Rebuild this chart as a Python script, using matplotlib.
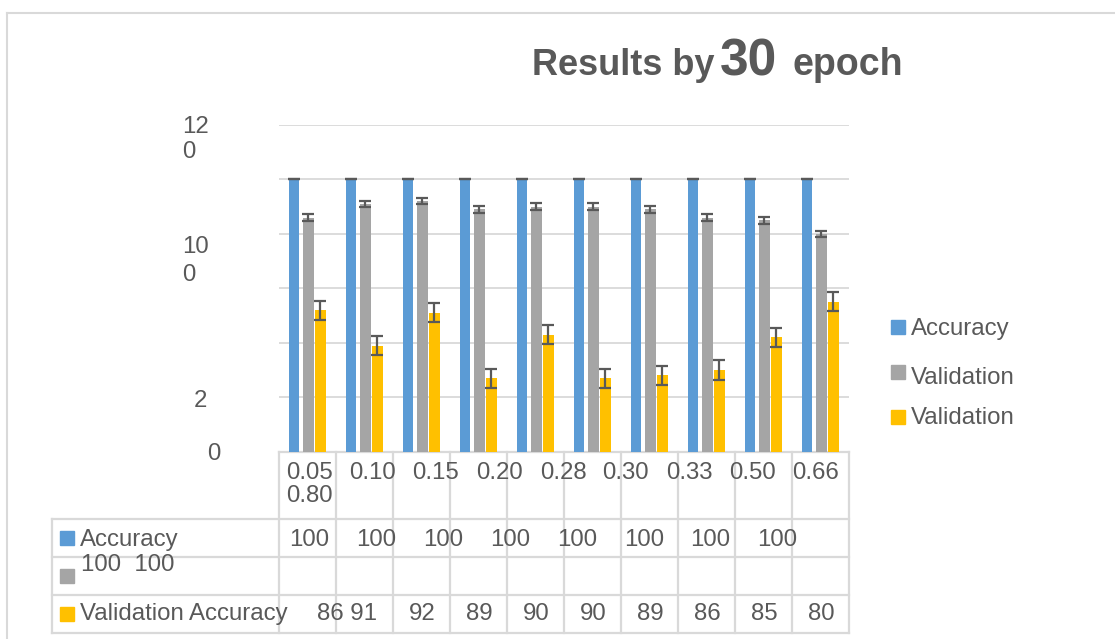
import matplotlib
matplotlib.use('Agg')
import matplotlib.pyplot as plt
import matplotlib.transforms as mtransforms
from matplotlib.patches import Rectangle
import numpy as np

plt.rcParams['font.family'] = ['Liberation Sans', 'DejaVu Sans']

# data
categories = ["0.05", "0.10", "0.15", "0.20", "0.28", "0.30", "0.33", "0.50", "0.66", "0.80"]
accuracy = [100, 100, 100, 100, 100, 100, 100, 100, 100, 100]
validation_grey = [86, 91, 92, 89, 90, 90, 89, 86, 85, 80]
validation_yellow = [52, 39, 51, 27, 43, 27, 28, 30, 42, 55]
err_accuracy = 0
err_grey = 1.2
err_yellow = 3.5
legend_labels = ["Accuracy", "Validation", "Validation"]

# text as it appears (garbled layout of the original)
header_texts = ["0.05", "0.10", "0.15", "0.20", "0.28", "0.30", "0.33", "0.50", "0.66"]
header_extra = "0.80"
acc_row_texts = ["100", "100", "100", "100", "100", "100", "100", "100"]
grey_row_label = "100  100"
yellow_row_label = "Validation Accuracy"
yellow_row_texts = ["86 91", "92", "89", "90", "90", "89", "86", "85", "80"]
ytick_texts = ["12", "0", "10", "0", "2", "0"]

BLUE = '#5B9BD5'
GREY = '#A5A5A5'
YELLOW = '#FFC000'
TXT = '#595959'
LINE = '#D9D9D9'
FS = 17.3
DY = 2  # small nudge so centred text sits like the original

W, H = 1115, 639
fig = plt.figure(figsize=(W / 100, H / 100), dpi=100)

# pixel overlay for table, labels, legend
ov = fig.add_axes([0, 0, 1, 1])
ov.set_xlim(0, W)
ov.set_ylim(H, 0)
ov.axis('off')

ax = fig.add_axes([279 / W, 1 - 451.7 / H, 570 / W, (451.7 - 125) / H])
ax.set_zorder(2)
ax.patch.set_alpha(0)

x = np.arange(len(categories))
bw = 0.18
ekw = dict(ecolor='#595959', elinewidth=1.6, capsize=4.6, capthick=1.6)
ax.bar(x - 0.232, accuracy, bw, color=BLUE, yerr=err_accuracy, error_kw=ekw, zorder=3)
ax.bar(x + 0.016, validation_grey, bw, color=GREY, yerr=err_grey, error_kw=ekw, zorder=3)
ax.bar(x + 0.227, validation_yellow, bw, color=YELLOW, yerr=err_yellow, error_kw=ekw, zorder=3)

ax.set_xlim(-0.5, len(categories) - 0.5)
ax.set_ylim(0, 120)
ax.set_yticks(range(0, 121, 20))
ax.yaxis.grid(True, color=LINE, linewidth=1.3, zorder=0)
ax.set_axisbelow(True)
ax.tick_params(left=False, bottom=False, labelleft=False, labelbottom=False)
for s in ax.spines.values():
    s.set_visible(False)

# outer border
ov.plot([7, W], [13, 13], color=LINE, lw=1.5)
ov.plot([7, 7], [13, H], color=LINE, lw=1.5)

# title
ov.text(532, 75, "Results by", fontsize=26, fontweight='bold', color=TXT, va='baseline', ha='left')
ov.text(720, 75, "30", fontsize=37, fontweight='bold', color=TXT, va='baseline', ha='left')
ov.text(793, 75, "epoch", fontsize=27, fontweight='bold', color=TXT, va='baseline', ha='left')

# y labels
ytick_pos = [(182, 125), (182, 150), (182, 245), (182, 273), (194, 399), (207, 452)]
for t, (px, py) in zip(ytick_texts, ytick_pos):
    ov.text(px, py + DY, t, fontsize=FS, color=TXT, ha='left', va='center')

# data table grid
bt = mtransforms.blended_transform_factory(ax.transData, ov.transData)
for b in np.arange(-0.5, len(categories), 1.0):
    ov.plot([b, b], [452, 633], color=LINE, lw=1.6, transform=bt, clip_on=False)
ov.plot([-0.5, len(categories) - 0.5], [452, 452], color=LINE, lw=1.6, transform=bt, clip_on=False)
for yy in [519, 557, 595, 633]:
    ov.plot([52, 849], [yy, yy], color=LINE, lw=1.6)
ov.plot([52, 52], [519, 633], color=LINE, lw=1.6)

# header row
hx = [286, 349, 412.5, 476, 540, 602, 666, 729, 792]
for t, px in zip(header_texts, hx):
    ov.text(px, 471 + DY, t, fontsize=FS, color=TXT, ha='left', va='center')
ov.text(286, 494 + DY, header_extra, fontsize=FS, color=TXT, ha='left', va='center')

# row keys
for yk, c in zip([531, 569, 607], [BLUE, GREY, YELLOW]):
    ov.add_patch(Rectangle((60, yk), 14, 14, color=c))
ov.text(80, 538 + DY, "Accuracy", fontsize=FS, color=TXT, ha='left', va='center')
ov.text(81, 563 + DY, grey_row_label, fontsize=FS, color=TXT, ha='left', va='center')
ov.text(80, 612 + DY, yellow_row_label, fontsize=FS, color=TXT, ha='left', va='center')

ax_row = [289, 356, 423, 490, 557, 624, 690, 757]
for t, px in zip(acc_row_texts, ax_row):
    ov.text(px, 538 + DY, t, fontsize=FS, color=TXT, ha='left', va='center')
yr = [347, 422, 479.5, 536, 593, 650.5, 707, 764, 821]
for t, px in zip(yellow_row_texts, yr):
    ov.text(px, 612 + DY, t, fontsize=FS, color=TXT, ha='center', va='center')

# legend on the right
for (sq, ty), c, lab in zip([(320, 327), (365, 376), (410, 416)], [BLUE, GREY, YELLOW], legend_labels):
    ov.add_patch(Rectangle((891, sq), 14, 14, color=c))
    ov.text(911, ty + DY, lab, fontsize=FS, color=TXT, ha='left', va='center')

fig.savefig('out.png', dpi=100)
